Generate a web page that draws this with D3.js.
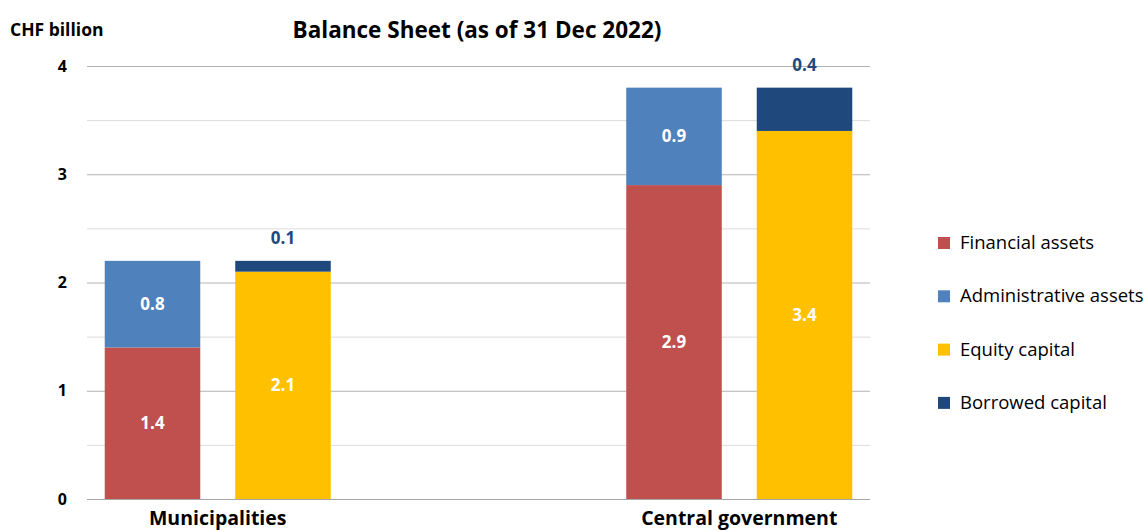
<!DOCTYPE html>
<html>
<head>
<meta charset="utf-8">
<script src="https://cdn.jsdelivr.net/npm/d3@7"></script>
<style>
  body { margin: 0; background: #fff; }
  svg text { font-family: "Open Sans", Lato, sans-serif; }
</style>
</head>
<body>
<div id="chart"></div>
<script>
const categories = ["Municipalities", "Central government"];
const sides = ["assets", "liabilities"];
const seriesNames = ["Financial assets", "Administrative assets", "Equity capital", "Borrowed capital"];
const seriesSide = ["assets", "assets", "liabilities", "liabilities"];
const seriesColors = ["#c0504d", "#4f81bd", "#ffc000", "#1f497d"];
const financialAssets = [1.4, 2.9];
const administrativeAssets = [0.8, 0.9];
const equityCapital = [2.1, 3.4];
const borrowedCapital = [0.1, 0.4];
const yTicks = [0, 1, 2, 3, 4];
const gridValues = [0.5, 1, 1.5, 2, 2.5, 3, 3.5, 4];

const W = 1146, H = 531;
const plot = { left: 87, right: 870, top: 66, bottom: 499 };

const svg = d3.select("#chart").append("svg")
  .attr("width", W).attr("height", H);

const y = d3.scaleLinear().domain([0, 4]).range([plot.bottom, plot.top]);
const x = d3.scaleBand().domain(categories).range([plot.left, plot.right])
  .paddingInner(0.5666).paddingOuter(0.034);
const xSide = d3.scaleBand().domain(sides).range([0, x.bandwidth()]).paddingInner(0.268);

// gridlines
svg.append("g").selectAll("line")
  .data(gridValues)
  .enter().append("line")
  .attr("x1", plot.left).attr("x2", plot.right)
  .attr("y1", d => y(d) + 0.5).attr("y2", d => y(d) + 0.5)
  .attr("stroke", d => Number.isInteger(d) ? "#b3b3b3" : "#dcdcdc")
  .attr("stroke-width", 1);

// y axis labels
svg.append("g")
  .attr("transform", `translate(67,0)`)
  .call(d3.axisLeft(y).tickValues(yTicks).tickSize(0).tickFormat(d3.format("d")))
  .call(g => g.select(".domain").remove())
  .selectAll("text")
  .attr("x", 0)
  .style("text-anchor", "end")
  .style("font-size", "16px")
  .style("font-weight", "bold")
  .style("fill", "#000");

// baseline
svg.append("line")
  .attr("x1", plot.left).attr("x2", plot.right)
  .attr("y1", y(0) + 0.5).attr("y2", y(0) + 0.5)
  .attr("stroke", "#a6a6a6");

// stacked segments
const valuesBySeries = [financialAssets, administrativeAssets, equityCapital, borrowedCapital];
const segments = [];
categories.forEach((cat, ci) => {
  sides.forEach(side => {
    let base = 0;
    seriesNames.forEach((name, si) => {
      if (seriesSide[si] !== side) return;
      const v = valuesBySeries[si][ci];
      segments.push({ cat, side, name, si, v, y0: base, y1: base + v });
      base += v;
    });
  });
});

svg.append("g").selectAll("rect")
  .data(segments)
  .enter().append("rect")
  .attr("x", d => x(d.cat) + xSide(d.side))
  .attr("width", xSide.bandwidth())
  .attr("y", d => y(d.y1))
  .attr("height", d => y(d.y0) - y(d.y1))
  .attr("fill", d => seriesColors[d.si]);

// value labels
svg.append("g").selectAll("text")
  .data(segments)
  .enter().append("text")
  .attr("x", d => x(d.cat) + xSide(d.side) + xSide.bandwidth() / 2)
  .attr("y", d => d.name === "Borrowed capital" ? y(d.y1) - 17 : (y(d.y0) + y(d.y1)) / 2 + 6)
  .attr("text-anchor", "middle")
  .style("font-size", "17px")
  .style("font-weight", "bold")
  .style("fill", d => d.name === "Borrowed capital" ? "#1f497d" : "#fff")
  .text(d => d3.format(".1f")(d.v));

// category labels
svg.append("g").selectAll("text")
  .data(categories)
  .enter().append("text")
  .attr("x", d => x(d) + x.bandwidth() / 2)
  .attr("y", 525)
  .attr("text-anchor", "middle")
  .style("font-size", "19.5px")
  .style("font-weight", "bold")
  .style("fill", "#000")
  .text(d => d);

// title + unit
svg.append("text")
  .attr("x", 477).attr("y", 38)
  .attr("text-anchor", "middle")
  .style("font-size", "22.5px")
  .style("font-weight", "bold")
  .text("Balance Sheet (as of 31 Dec 2022)");

svg.append("text")
  .attr("x", 10).attr("y", 36)
  .style("font-size", "17.5px")
  .style("font-weight", "bold")
  .text("CHF billion");

// legend
const legend = svg.append("g").selectAll("g")
  .data(seriesNames)
  .enter().append("g")
  .attr("transform", (d, i) => `translate(938,${243 + i * 53.3})`);

legend.append("rect")
  .attr("x", 0).attr("y", -6)
  .attr("width", 12).attr("height", 12)
  .attr("fill", (d, i) => seriesColors[i]);

legend.append("text")
  .attr("x", 22).attr("y", 6)
  .style("font-size", "18.5px")
  .style("fill", "#000")
  .text(d => d);
</script>
</body>
</html>
